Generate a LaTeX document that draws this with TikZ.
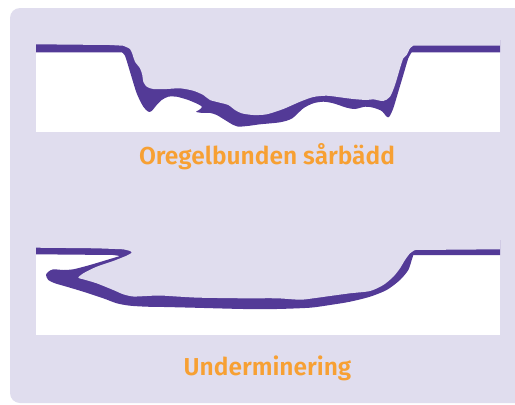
\documentclass[tikz,border=0pt]{standalone}
\usepackage{fontspec}
\newfontfamily\lblfont{Fira Sans SemiBold}
\definecolor{lav}{HTML}{E0DDEE}
\definecolor{purp}{HTML}{533A97}
\definecolor{orng}{HTML}{F7A033}
\tikzset{
  lining/.style={fill=purp},
  cavity/.style={fill=lav},
  tissue/.style={fill=white},
  label/.style={text=orng, font=\lblfont\fontsize{24.5}{28}\selectfont, anchor=base, inner sep=0pt},
  sm/.style={smooth, tension=0.45}
}
\begin{document}
\begin{tikzpicture}[x=1pt,y=-1pt]
\useasboundingbox (0,0) rectangle (515,405);
\clip (0,0) rectangle (515,405);
\fill[white] (0,0) rectangle (515,405);
\fill[cavity, rounded corners=10pt] (10,8) rectangle (540,403);

% ---------- top panel: irregular wound bed ----------
\fill[tissue] (36,50) rectangle (500,132);
\fill[lining] (36,40) -- (36,52.3) -- (118,52.3)
  -- plot[sm] coordinates {(121.7,52.3) (125,55.7) (130,71.7) (136.7,93.3) (143.3,106.7) (148.3,111.7) (151.7,111) (156.7,105) (161.7,100) (168.3,96.7) (176.7,96.7) (188.3,100) (198.3,104.3) (202,107) (199,110) (196,111.8) (201,112.8) (210,112.9) (216.7,115) (225,120) (233.3,125) (238.3,126.7) (250,125.7) (260,124.3) (280,122.3) (292,118.5) (303.3,108.3) (313.3,103.3) (323.3,101.7) (333.3,103.3) (346.7,107.7) (355,109) (365,106.7) (373.3,107.7) (381.7,111) (386.7,116.7) (389.3,116.7) (393.3,108.3) (398.3,91.7) (403.3,75) (408.3,58.3) (411.7,52.3)}
  -- (500,52.3) -- (500,40) -- cycle;
\fill[cavity] (36,30) -- (36,44.3) -- (110,45)
  -- plot[sm] coordinates {(123,45.7) (130,49) (132.7,55) (135,61.7) (140,68.3) (142.3,75) (143.3,81.7) (146.7,86.7) (153.3,89) (166.7,89) (180,88.3) (193.3,90.7) (203.3,95) (210,100) (220,102.7) (228.3,105) (235,110) (241.7,113.3) (253.3,115) (266.7,114.3) (283.3,109) (300,101.7) (313.3,97) (326.7,95.7) (340,97.3) (353.3,99) (366.7,100) (373.3,99.3) (383.3,101) (390,96.7) (395,85) (400,68.3) (403.3,58.3) (406.7,55) (410,48.3) (413.3,45.7)}
  -- (500,45.7) -- (500,30) -- cycle;
\node[label] (t1) at (267,164) {Oregelbunden sårbädd};

% ---------- bottom panel: undermining ----------
\fill[tissue] (36,252) rectangle (500,334.7);
\fill[lining] (36,240) -- (36,254.3) -- (113.3,255)
  -- plot[sm] coordinates {(120,256) (106.7,260) (90,265) (73.3,269.3) (63.3,270) (53.3,269.3) (48.3,271.7) (46,275) (48.3,280) (55,283.3) (66.7,286.7) (83.3,291.7) (103.3,298.3) (116.7,303.3) (130,305.7) (146.7,306.7) (160,306.9) (193.3,307.7) (243.3,309) (276.7,309) (310,307.7) (330,305) (350,301.7) (370,296.7) (386.7,290) (400,280) (408.3,270) (411.7,260) (413.3,255)}
  -- (500,255) -- (500,240) -- cycle;
\fill[cavity] (36,235) -- (36,247.7) -- (96.7,248.3)
  -- plot[sm] coordinates {(123.3,249.3) (129.5,250.8) (131.7,252.6) (127,255.5) (113.3,261) (96.7,266.7) (83.3,273.3) (78.3,277.7) (83.3,279.3) (96.7,283.3) (113.3,290) (123.3,294.3) (133.3,296.5) (146.7,296) (160,295.5) (180,296.7) (200,297.7) (243.3,298.3) (276.7,298.3) (300,299.7) (313.3,298.3) (330,296) (350,293.3) (370,291) (383.3,285) (393.3,276.7) (400,268.3) (405,260) (410,253.3) (415,250)}
  -- (500,249.3) -- (500,235) -- cycle;
\node[label] (t2) at (267.5,375) {Underminering};
\end{tikzpicture}
\end{document}
